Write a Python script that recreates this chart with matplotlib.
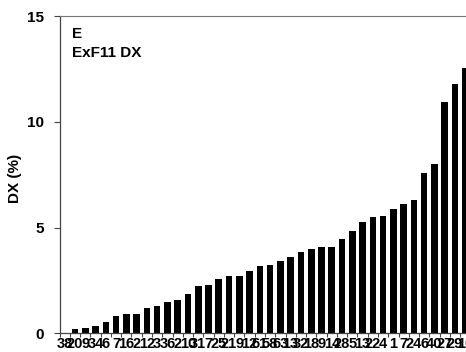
import matplotlib
matplotlib.use("Agg")
import matplotlib.pyplot as plt
import numpy as np

plt.rcParams['font.family'] = ['Liberation Sans', 'DejaVu Sans']

samples = ["38", "20", "9", "34", "6", "7", "16", "2", "12", "3", "36", "2", "10", "31",
           "7", "25", "21", "9", "12", "61", "58", "63", "13", "32", "18", "9", "14", "28",
           "5", "13", "22", "4", "1", "7", "24", "6", "40", "27", "29", "10"]
dx_pct = [0.0, 0.20, 0.25, 0.36, 0.54, 0.84, 0.90, 0.93, 1.18, 1.30, 1.47, 1.58, 1.85,
          2.24, 2.29, 2.57, 2.69, 2.72, 2.97, 3.18, 3.22, 3.40, 3.63, 3.85, 4.00, 4.08,
          4.08, 4.45, 4.83, 5.28, 5.51, 5.55, 5.89, 6.10, 6.33, 7.57, 8.01, 10.95, 11.82,
          12.53]
y_ticks = [0, 5, 10, 15]
panel = "E"
title = "ExF11 DX"
ylabel = "DX (%)"

W, H = 466, 352
fig = plt.figure(figsize=(W / 100, H / 100), dpi=100)
ax = fig.add_axes([59.6 / W, (H - 333.3) / H, (470.4 - 59.6) / W, (333.3 - 16.3) / H])

x = np.arange(len(samples))
ax.bar(x, dx_pct, width=0.64, color='black', edgecolor='black', linewidth=0)

ax.set_xlim(-0.5, len(samples) - 0.5)
ax.set_ylim(0, 15)

ax.set_xticks(np.arange(-0.5, len(samples), 1.0))
ax.set_xticklabels([])
ax.set_xticks(x, minor=True)
ax.set_xticklabels(samples, minor=True, fontsize=10.5, fontweight='bold')
ax.tick_params(axis='x', which='major', direction='out', length=3, width=0.8, color='#444444')
ax.tick_params(axis='x', which='minor', length=0, pad=3)

ax.set_yticks(y_ticks)
ax.set_yticklabels([str(v) for v in y_ticks], fontsize=11, fontweight='bold')
ax.tick_params(axis='y', direction='out', length=4, width=0.8, color='#444444', pad=7)

for s in ['left', 'bottom']:
    ax.spines[s].set_color('#444444')
    ax.spines[s].set_linewidth(0.9)
ax.spines['top'].set_color('#777777')
ax.spines['top'].set_linewidth(0.8)
ax.spines['right'].set_visible(False)

ax.set_ylabel(ylabel, fontsize=11, fontweight='bold')
ax.yaxis.set_label_coords((22 - 59.6) / 410.8, 0.49)

ax.text(0.03, 0.965, panel, transform=ax.transAxes, fontsize=11, fontweight='bold',
        va='top', ha='left')
ax.text(0.03, 0.905, title, transform=ax.transAxes, fontsize=11, fontweight='bold',
        va='top', ha='left')

fig.savefig("out.png", dpi=100)
